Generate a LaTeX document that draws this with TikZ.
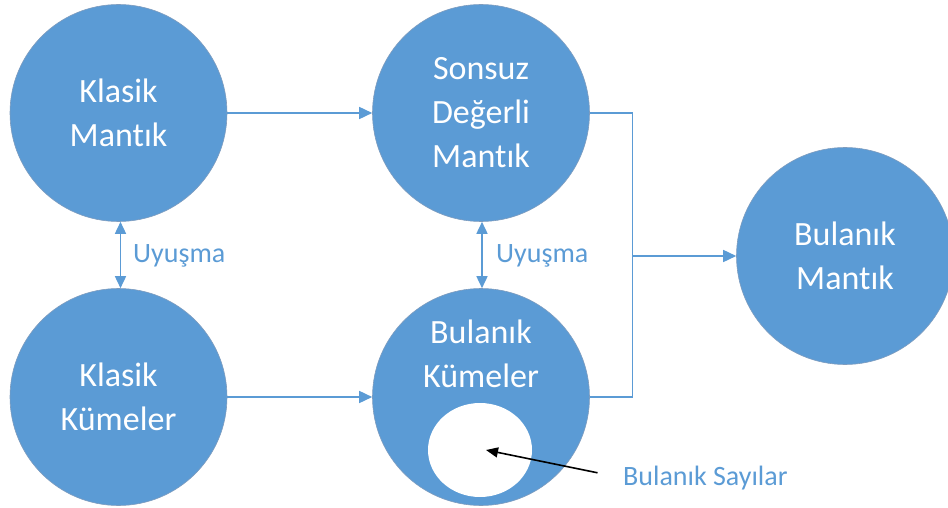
\documentclass[tikz,border=0pt]{standalone}
\usepackage{fontspec}
\setmainfont[Ligatures={NoCommon}]{Carlito}
\usetikzlibrary{arrows.meta,shapes.geometric}
\definecolor{bubble}{HTML}{5B9BD5}
\definecolor{rim}{HTML}{7E9CBE}
\begin{document}
\begin{tikzpicture}[x=1pt,y=-1pt,
  bubble/.style={circle,fill=bubble,draw=rim,line width=0.6pt,minimum size=217pt,inner sep=0pt},
  bubbletext/.style={text=white,font=\fontsize{34}{44}\selectfont,align=center},
  flow/.style={draw=bubble,line width=1.6pt},
  flowarrow/.style={flow,-{Triangle[length=13pt,width=12pt]}},
  bothways/.style={flow,{Triangle[length=12pt,width=11pt]}-{Triangle[length=12pt,width=11pt]}},
  tag/.style={text=bubble,font=\fontsize{28}{32}\selectfont,inner sep=0pt}]
\useasboundingbox (0,0) rectangle (948,508);

% the five concepts
\node[bubble] (km) at (118.5,113) {};
\node[bubble] (sd) at (481,113) {};
\node[bubble] (kk) at (118.5,397) {};
\node[bubble] (bk) at (481,397) {};
\node[bubble] (bm) at (845,256) {};

% fuzzy numbers as a subset of fuzzy sets
\node[ellipse,fill=white,minimum width=104pt,minimum height=94pt,inner sep=0pt] (bs) at (480,450) {};
\coordinate (bstip) at (486,450);

% labels inside the circles
\node[bubbletext] (kmt) at (km) {Klasik\\Mantık};
\node[bubbletext] (sdt) at (sd) {Sonsuz\\Değerli\\Mantık};
\node[bubbletext] (kkt) at (kk) {Klasik\\Kümeler};
\node[bubbletext] (bkt) at (481,354) {Bulanık\\Kümeler};
\node[bubbletext] (bmt) at (bm) {Bulanık\\Mantık};

% horizontal generalisations
\draw[flowarrow] (km.east) -- (sd.west);
\draw[flowarrow] (kk.east) -- (bk.west);

% both branches merge into fuzzy logic
\coordinate (jtop) at (632.5,113);
\coordinate (jbot) at (632.5,397);
\coordinate (jmid) at (632.5,256);
\draw[flow] (sd.east) -- (jtop) -- (jbot) -- (bk.east);
\draw[flowarrow] (jmid) -- (bm.west);

% correspondences
\draw[bothways] ([xshift=2pt]km.south) -- ([xshift=2pt]kk.north);
\draw[bothways] ([xshift=1pt]sd.south) -- ([xshift=1pt]bk.north);
\node[tag,anchor=west] (u1) at (133,256) {Uyuşma};
\node[tag,anchor=west] (u2) at (496,256) {Uyuşma};

% pointer to fuzzy numbers
\node[tag,anchor=west] (bsl) at (623,478) {Bulanık Sayılar};
\draw[black,line width=1.6pt,-{Triangle[length=12pt,width=10pt]},shorten <=26pt] (bsl.west) -- (bstip);
\end{tikzpicture}
\end{document}
